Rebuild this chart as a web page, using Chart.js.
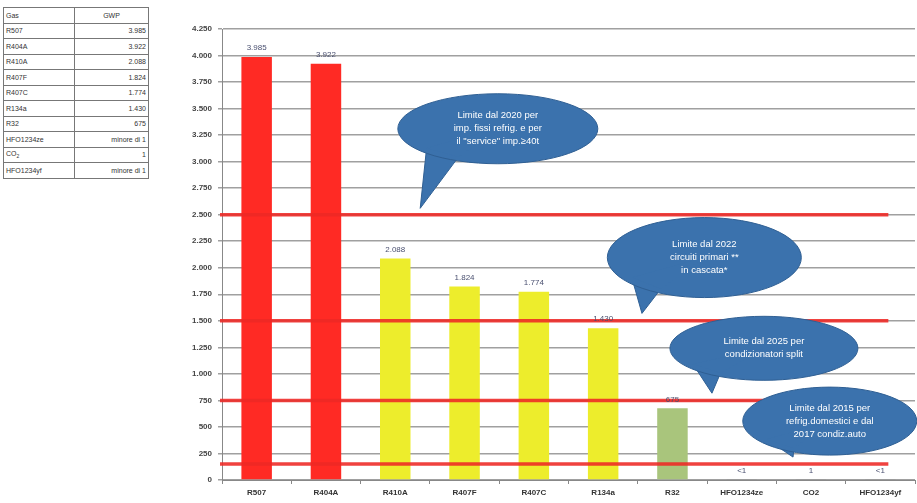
<!DOCTYPE html>
<html>
<head>
<meta charset="utf-8">
<script src="https://cdn.jsdelivr.net/npm/chart.js@4.4.0/dist/chart.umd.min.js"></script>
<style>
  body { margin: 0; background: #fff; width: 917px; height: 503px; overflow: hidden; font-family: "Liberation Sans", Arial, sans-serif; }
  #tabella { position: absolute; left: 3px; top: 7px; border-collapse: collapse; font-size: 7px; color: #333; }
  #tabella td { border: 1px solid #777; height: 14.5px; padding: 0 2px; }
  #tabella td.gas { width: 66px; }
  #tabella td.gwp { width: 69px; text-align: right; }
  #tabella tr.head td.gwp { text-align: center; }
  #wrap { position: absolute; left: 160px; top: 0; width: 757px; height: 503px; }
</style>
</head>
<body>
<table id="tabella"></table>
<div id="wrap"><canvas id="gwpChart"></canvas></div>
<script>
// Dati del grafico
const gas = ['R507', 'R404A', 'R410A', 'R407F', 'R407C', 'R134a', 'R32', 'HFO1234ze', 'CO2', 'HFO1234yf'];
const gwp = [3985, 3922, 2088, 1824, 1774, 1430, 675, 1, 1, 1];
const etichette = ['3.985', '3.922', '2.088', '1.824', '1.774', '1.430', '675', '<1', '1', '<1'];
const tabellaGwp = ['3.985', '3.922', '2.088', '1.824', '1.774', '1.430', '675', 'minore di 1', '1', 'minore di 1'];
const limiti = [2500, 1500, 750, 150];
const yTicks = [0, 250, 500, 750, 1000, 1250, 1500, 1750, 2000, 2250, 2500, 2750, 3000, 3250, 3500, 3750, 4000, 4250];

const coloriBarre = ['#ff2a24', '#ff2a24', '#eded2c', '#eded2c', '#eded2c', '#eded2c', '#a9c57c', '#999', '#999', '#999'];

// Fumetti: centro e punta in coordinate dei dati (indice categoria, valore GWP)
const fumetti = [
    { cx: 3.48, cy: 3310, rx: 100, ry: 35, tx: 2.36, ty: 2560, righe: ['Limite dal 2020 per', 'imp. fissi refrig. e per', 'il "service" imp.≥40t'] },
    { cx: 6.46, cy: 2096, rx: 97, ry: 40, tx: 5.56, ty: 1570, righe: ['Limite dal 2022', 'circuiti primari **', 'in cascata*'] },
    { cx: 7.32, cy: 1241, rx: 94, ry: 32, tx: 6.57, ty: 818, righe: ['Limite dal 2025 per', 'condizionatori split'] },
    { cx: 8.27, cy: 555, rx: 87, ry: 34, tx: 7.74, ty: 216, righe: ['Limite dal 2015 per', 'refrig.domestici e dal', '2017 condiz.auto'] }
];

// Tabella a sinistra
function buildTable() {
    const t = document.getElementById('tabella');
    let html = '<tr class="head"><td class="gas">Gas</td><td class="gwp">GWP</td></tr>';
    gas.forEach((g, i) => {
        const nome = g === 'CO2' ? 'CO<sub style="font-size:5px">2</sub>' : g;
        html += `<tr><td class="gas">${nome}</td><td class="gwp">${tabellaGwp[i]}</td></tr>`;
    });
    t.innerHTML = html;
}
buildTable();

function formatIt(v) {
    return new Intl.NumberFormat('it-IT').format(v).replace(/\s/g, '.');
}

// Linee rosse dei limiti
const limitiPlugin = {
    id: 'limiti',
    afterDatasetsDraw(chart) {
        const { ctx, chartArea, scales } = chart;
        const xEnd = scales.x.getPixelForValue(9) + 8;
        ctx.save();
        ctx.strokeStyle = 'rgba(238, 40, 36, 0.88)';
        ctx.lineWidth = 3.5;
        limiti.forEach(v => {
            const y = scales.y.getPixelForValue(v);
            ctx.beginPath();
            ctx.moveTo(chartArea.left - 2, y);
            ctx.lineTo(xEnd, y);
            ctx.stroke();
        });
        ctx.restore();
    }
};

// Etichette sopra le barre
const etichettePlugin = {
    id: 'etichette',
    afterDatasetsDraw(chart) {
        const { ctx } = chart;
        const meta = chart.getDatasetMeta(0);
        ctx.save();
        ctx.font = '8px "Liberation Sans", Arial, sans-serif';
        ctx.fillStyle = '#4a5070';
        ctx.textAlign = 'center';
        ctx.textBaseline = 'bottom';
        meta.data.forEach((bar, i) => {
            ctx.fillText(etichette[i], bar.x, bar.y - 5);
        });
        ctx.restore();
    }
};

// Fumetti blu
const fumettiPlugin = {
    id: 'fumetti',
    afterDraw(chart) {
        const { ctx, scales } = chart;
        ctx.save();
        fumetti.forEach(f => {
            const cx = scales.x.getPixelForValue(f.cx);
            const cy = scales.y.getPixelForValue(f.cy);
            const tx = scales.x.getPixelForValue(f.tx);
            const ty = scales.y.getPixelForValue(f.ty);
            ctx.fillStyle = '#3b72ad';
            ctx.strokeStyle = '#2f5f93';
            ctx.lineWidth = 1;
            // punta
            const ang = Math.atan2(ty - cy, tx - cx);
            const a1 = ang - 0.32;
            const a2 = ang + 0.14;
            const p1 = [cx + f.rx * 0.9 * Math.cos(a1), cy + f.ry * 0.9 * Math.sin(a1)];
            const p2 = [cx + f.rx * 0.9 * Math.cos(a2), cy + f.ry * 0.9 * Math.sin(a2)];
            ctx.beginPath();
            ctx.moveTo(p1[0], p1[1]);
            ctx.lineTo(tx, ty);
            ctx.lineTo(p2[0], p2[1]);
            ctx.closePath();
            ctx.fill();
            ctx.stroke();
            ctx.beginPath();
            ctx.ellipse(cx, cy, f.rx, f.ry, 0, 0, Math.PI * 2);
            ctx.fill();
            ctx.stroke();
            ctx.beginPath();
            ctx.moveTo(p1[0], p1[1]);
            ctx.lineTo(p2[0], p2[1]);
            ctx.lineTo(cx, cy);
            ctx.fill();
            // testo
            ctx.fillStyle = '#ffffff';
            ctx.font = '9.5px "Liberation Sans", Arial, sans-serif';
            ctx.textAlign = 'center';
            ctx.textBaseline = 'middle';
            const h = 13;
            const y0 = cy - (f.righe.length - 1) * h / 2;
            f.righe.forEach((r, i) => ctx.fillText(r, cx, y0 + i * h));
        });
        ctx.restore();
    }
};

const ctx = document.getElementById('gwpChart').getContext('2d');
new Chart(ctx, {
    type: 'bar',
    data: {
        labels: gas,
        datasets: [{
            data: gwp,
            backgroundColor: coloriBarre,
            borderWidth: 0,
            barPercentage: 0.44,
            categoryPercentage: 1
        }]
    },
    options: {
        responsive: true,
        maintainAspectRatio: false,
        animation: false,
        layout: { padding: { top: 29, right: 2, left: 0, bottom: 0 } },
        plugins: {
            legend: { display: false },
            tooltip: { enabled: false }
        },
        scales: {
            x: {
                grid: { display: true, drawOnChartArea: false, offset: true, color: '#888', tickLength: 4 },
                border: { color: '#888', width: 1 },
                ticks: {
                    color: '#333',
                    font: { size: 8, weight: 'bold', family: '"Liberation Sans", Arial, sans-serif' },
                    maxRotation: 0,
                    autoSkip: false,
                    padding: 4
                },
                afterFit(scale) { scale.height = 23; }
            },
            y: {
                min: 0,
                max: 4250,
                afterBuildTicks(scale) { scale.ticks = yTicks.map(v => ({ value: v })); },
                grid: { color: '#a0a0a0', lineWidth: 1.5, tickLength: 4 },
                border: { color: '#888', width: 1 },
                ticks: {
                    color: '#444',
                    font: { size: 8, weight: 'bold', family: '"Liberation Sans", Arial, sans-serif' },
                    padding: 6,
                    callback: v => formatIt(v)
                },
                afterFit(scale) { scale.width = 62; }
            }
        }
    },
    plugins: [limitiPlugin, etichettePlugin, fumettiPlugin]
});
</script>
</body>
</html>
